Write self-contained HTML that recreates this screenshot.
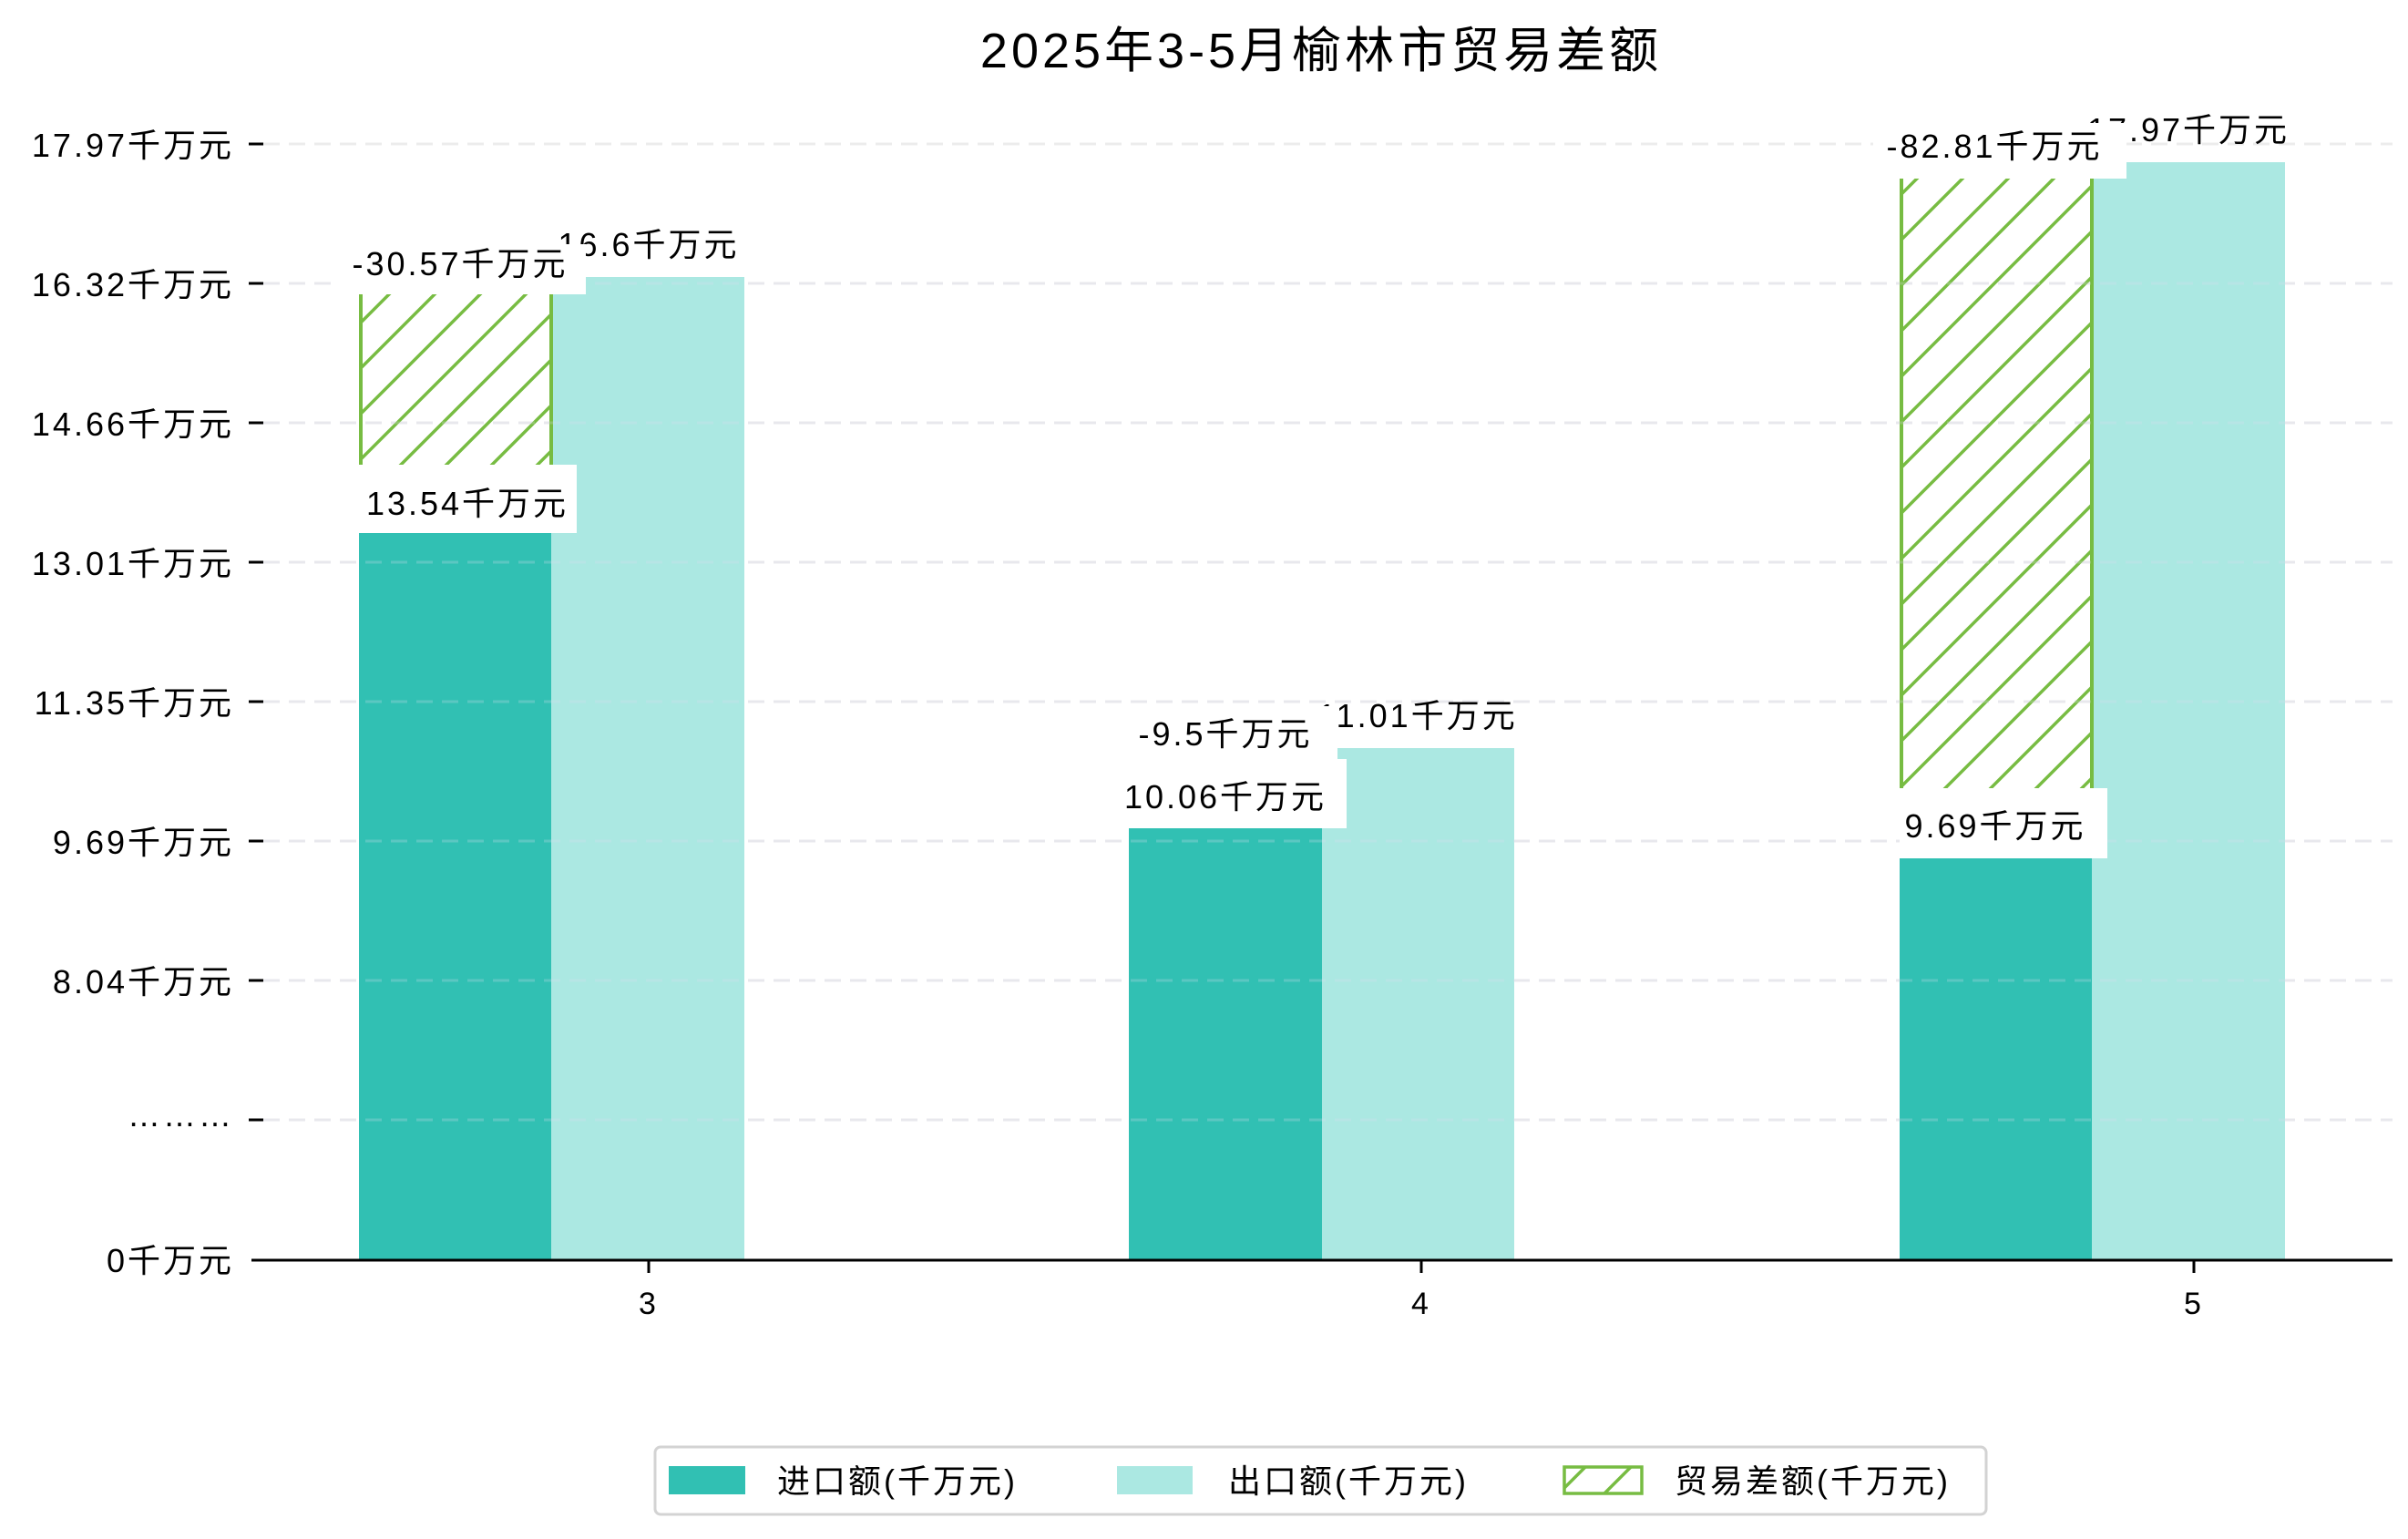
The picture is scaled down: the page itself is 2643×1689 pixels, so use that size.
<!DOCTYPE html>
<html><head><meta charset="utf-8"><style>
html,body{margin:0;padding:0;background:#fff;}
svg{display:block;}
text{font-family:"Liberation Sans","Noto Sans CJK SC",sans-serif;fill:#000;letter-spacing:3px;}
</style></head><body>
<svg width="2643" height="1689" viewBox="0 0 2643 1689" xmlns="http://www.w3.org/2000/svg">
<defs>
<pattern id="h" patternUnits="userSpaceOnUse" width="50" height="50">
<path d="M-5,55 L55,-5 M-30,30 L30,-30 M20,80 L80,20" stroke="#77bc42" stroke-width="3.5"/>
</pattern>
</defs>
<text x="1450" y="74" font-size="54" text-anchor="middle" style="letter-spacing:4px">2025年3-5月榆林市贸易差额</text>

<!-- grid -->
<g stroke="#ececec" stroke-width="3" stroke-dasharray="18,10">
<line x1="289" x2="2626" y1="158" y2="158"/>
<line x1="289" x2="2626" y1="311" y2="311"/>
<line x1="289" x2="2626" y1="464" y2="464"/>
<line x1="289" x2="2626" y1="617" y2="617"/>
<line x1="289" x2="2626" y1="770" y2="770"/>
<line x1="289" x2="2626" y1="923" y2="923"/>
<line x1="289" x2="2626" y1="1076" y2="1076"/>
<line x1="289" x2="2626" y1="1229" y2="1229"/>
</g>

<!-- bars -->
<rect x="394" y="585" width="211" height="797" fill="#31c0b3"/>
<rect x="605" y="304" width="212" height="1078" fill="#abe8e2"/>
<rect x="1239" y="909" width="212" height="473" fill="#31c0b3"/>
<rect x="1451" y="821" width="211" height="561" fill="#abe8e2"/>
<rect x="2085" y="942" width="211" height="440" fill="#31c0b3"/>
<rect x="2296" y="178" width="212" height="1204" fill="#abe8e2"/>

<!-- hatch bars -->
<rect x="396" y="323" width="207" height="187" fill="url(#h)"/>
<line x1="396" x2="396" y1="323" y2="510" stroke="#77bc42" stroke-width="4"/>
<line x1="605" x2="605" y1="323" y2="510" stroke="#77bc42" stroke-width="4"/>
<rect x="2087" y="196" width="207" height="669" fill="url(#h)"/>
<line x1="2087" x2="2087" y1="196" y2="865" stroke="#77bc42" stroke-width="4"/>
<line x1="2296" x2="2296" y1="196" y2="865" stroke="#77bc42" stroke-width="4"/>

<g stroke="#dde" stroke-opacity="0.25" stroke-width="3" stroke-dasharray="18,10">
<line x1="289" x2="2626" y1="311" y2="311"/>
<line x1="289" x2="2626" y1="464" y2="464"/>
<line x1="289" x2="2626" y1="617" y2="617"/>
<line x1="289" x2="2626" y1="770" y2="770"/>
<line x1="289" x2="2626" y1="923" y2="923"/>
<line x1="289" x2="2626" y1="1076" y2="1076"/>
<line x1="289" x2="2626" y1="1229" y2="1229"/>
</g>

<!-- export labels -->
<g font-size="36" text-anchor="middle">
<text x="712" y="281">16.6千万元</text>
<text x="1556" y="798">11.01千万元</text>
<text x="2402" y="155">17.97千万元</text>
</g>
<!-- import labels -->
<rect x="394" y="510" width="239" height="75" fill="#fff"/>
<text x="513" y="565" font-size="36" text-anchor="middle">13.54千万元</text>
<rect x="1232" y="833" width="246" height="76" fill="#fff"/>
<text x="1345" y="887" font-size="36" text-anchor="middle">10.06千万元</text>
<rect x="2085" y="865" width="228" height="77" fill="#fff"/>
<text x="2190" y="919" font-size="36" text-anchor="middle">9.69千万元</text>
<!-- diff labels -->
<rect x="366" y="268" width="277" height="55" fill="#fff"/>
<text x="505" y="302" font-size="36" text-anchor="middle">-30.57千万元</text>
<rect x="1222" y="775" width="246" height="58" fill="#fff"/>
<text x="1345" y="818" font-size="36" text-anchor="middle">-9.5千万元</text>
<rect x="2056" y="135" width="278" height="61" fill="#fff"/>
<text x="2189" y="173" font-size="36" text-anchor="middle">-82.81千万元</text>

<!-- axes -->
<line x1="276" x2="2626" y1="1383" y2="1383" stroke="#000" stroke-width="3"/>
<g stroke="#000" stroke-width="3">
<line x1="273" x2="289" y1="158" y2="158"/>
<line x1="273" x2="289" y1="311" y2="311"/>
<line x1="273" x2="289" y1="464" y2="464"/>
<line x1="273" x2="289" y1="617" y2="617"/>
<line x1="273" x2="289" y1="770" y2="770"/>
<line x1="273" x2="289" y1="923" y2="923"/>
<line x1="273" x2="289" y1="1076" y2="1076"/>
<line x1="273" x2="289" y1="1229" y2="1229"/>
<line x1="712" x2="712" y1="1383" y2="1397"/>
<line x1="1560" x2="1560" y1="1383" y2="1397"/>
<line x1="2408" x2="2408" y1="1383" y2="1397"/>
</g>
<g font-size="36" text-anchor="end">
<text x="257" y="172">17.97千万元</text>
<text x="257" y="325">16.32千万元</text>
<text x="257" y="478">14.66千万元</text>
<text x="257" y="631">13.01千万元</text>
<text x="257" y="784">11.35千万元</text>
<text x="257" y="937">9.69千万元</text>
<text x="257" y="1090">8.04千万元</text>
<text x="257" y="1236">………</text>
<text x="257" y="1396">0千万元</text>
</g>
<g font-size="34" text-anchor="middle">
<text x="712" y="1442">3</text>
<text x="1560" y="1442">4</text>
<text x="2408" y="1442">5</text>
</g>

<!-- legend -->
<rect x="719" y="1588" width="1461" height="74" rx="6" fill="#fff" stroke="#d3d3d3" stroke-width="3"/>
<rect x="734" y="1609" width="84" height="31" fill="#31c0b3"/>
<text x="853" y="1638" font-size="36">进口额(千万元)</text>
<rect x="1226" y="1609" width="83" height="31" fill="#abe8e2"/>
<text x="1348" y="1638" font-size="36">出口额(千万元)</text>
<rect x="1717" y="1610" width="85" height="29" fill="url(#h)" stroke="#77bc42" stroke-width="3.5"/>
<text x="1838" y="1638" font-size="36">贸易差额(千万元)</text>
</svg>
</body></html>
